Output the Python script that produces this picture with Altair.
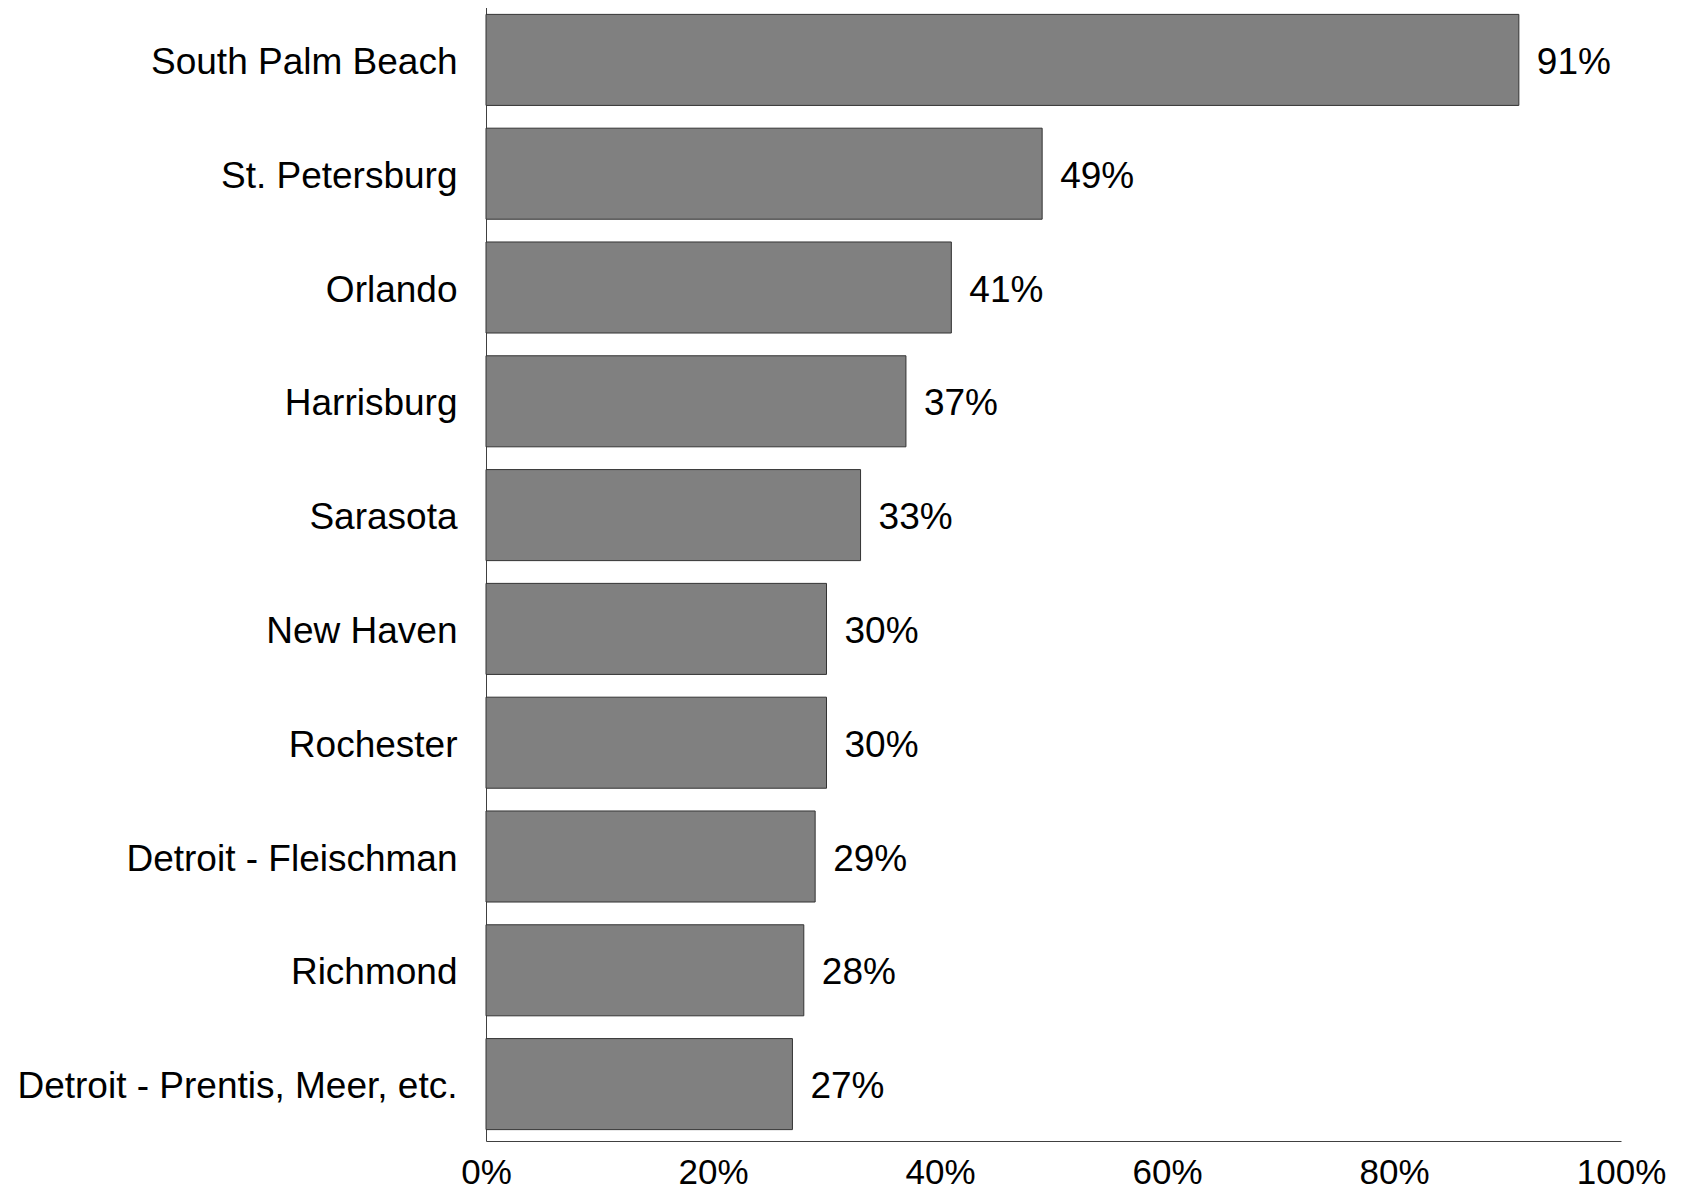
import altair as alt
import pandas as pd

categories = [
    "South Palm Beach",
    "St. Petersburg",
    "Orlando",
    "Harrisburg",
    "Sarasota",
    "New Haven",
    "Rochester",
    "Detroit - Fleischman",
    "Richmond",
    "Detroit - Prentis, Meer, etc.",
]
values = [0.91, 0.49, 0.41, 0.37, 0.33, 0.30, 0.30, 0.29, 0.28, 0.27]
x_ticks = [0, 0.2, 0.4, 0.6, 0.8, 1.0]

df = pd.DataFrame({"city": categories, "share": values})

FONT = "Liberation Sans"

base = alt.Chart(df).encode(
    y=alt.Y(
        "city:N",
        sort=categories,
        scale=alt.Scale(paddingInner=0.2, paddingOuter=0.1),
        axis=alt.Axis(
            title=None,
            ticks=False,
            grid=False,
            labelFontSize=37,
            labelFont=FONT,
            labelColor="black",
            labelPadding=29,
            labelOffset=3,
            domainColor="#404040",
            domainWidth=1,
            labelLimit=600,
        ),
    ),
    x=alt.X(
        "share:Q",
        scale=alt.Scale(domain=[0, 1], nice=False),
        axis=alt.Axis(
            title=None,
            values=x_ticks,
            format=".0%",
            ticks=False,
            grid=False,
            labelFontSize=35,
            labelFont=FONT,
            labelColor="black",
            labelPadding=14,
            labelFlush=False,
            labelOverlap=False,
            domainColor="#404040",
            domainWidth=1,
        ),
    ),
)

bars = base.mark_bar(color="#808080", stroke="#333333", strokeWidth=1)
text = base.mark_text(
    align="left", baseline="middle", dx=18, dy=3, fontSize=37, font=FONT, color="black"
).encode(text=alt.Text("share:Q", format=".0%"))

chart = (
    (bars + text)
    .properties(
        width=1135,
        height=1138,
        autosize=alt.AutoSizeParams(type="none"),
        padding={"left": 478, "top": -5, "right": 54, "bottom": 49},
        view=alt.ViewBackground(stroke=None, strokeWidth=0),
    )
    .configure_view(stroke=None, strokeWidth=0)
    .configure_axis(grid=False)
    .configure(background="white")
)

chart.save("out.html", embed_options={"renderer": "svg", "actions": False})
